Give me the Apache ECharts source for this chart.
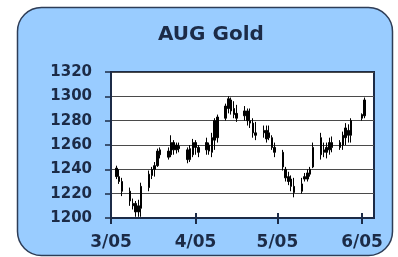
<!DOCTYPE html>
<html>
<head>
<meta charset="utf-8">
<script src="https://cdn.jsdelivr.net/npm/echarts@6/dist/echarts.min.js"></script>
<style>
html,body{margin:0;padding:0;background:#fff;}
#chart{width:398px;height:257px;}
</style>
</head>
<body>
<div id="chart"></div>
<script>
// days counted from 3/05
var days   = [2,3,4,7,8,9,10,11,14,15,16,17,18,21,22,23,24,25,28,29,30,31,32,35,36,37,38,39,42,43,44,45,46,49,50,51,52,53,56,57,58,59,60,63,64,65,66,67,70,71,72,73,74,77,78,79,80,81,84,85,86,87,88,92,93];
var opens  = [1241,1234,1230,1222,1210,1212,1205,1208,1225,1235,1240,1243,1252,1255,1252,1262,1256,1259,1256,1248,1252,1262,1258,1256,1260,1254,1264,1266,1282,1290,1297,1290,1286,1284,1288,1280,1278,1270,1270,1272,1266,1266,1258,1254,1240,1234,1232,1226,1222,1232,1232,1236,1242,1252,1256,1254,1256,1262,1258,1260,1266,1272,1268,1282,1284];
var closes = [1234,1230,1222,1214,1212,1205,1210,1226,1236,1240,1243,1255,1256,1250,1262,1256,1260,1257,1248,1257,1262,1258,1254,1262,1255,1266,1280,1283,1292,1298,1288,1285,1282,1288,1280,1278,1270,1268,1272,1265,1270,1258,1254,1242,1233,1230,1226,1221,1228,1234,1237,1240,1258,1266,1254,1258,1262,1258,1262,1268,1274,1268,1280,1285,1297];
var lows   = [1232,1228,1218,1210,1207,1201,1201,1201,1222,1232,1234,1242,1249,1248,1250,1252,1253,1254,1245,1246,1250,1252,1250,1252,1252,1250,1256,1262,1280,1286,1285,1282,1279,1280,1276,1274,1266,1264,1266,1262,1264,1256,1250,1239,1230,1227,1222,1217,1220,1230,1230,1234,1241,1248,1250,1249,1252,1254,1256,1256,1260,1262,1262,1280,1282];
var highs  = [1243,1240,1233,1225,1216,1214,1215,1229,1239,1242,1246,1257,1258,1258,1268,1264,1262,1262,1258,1260,1265,1264,1260,1266,1262,1270,1282,1285,1294,1300,1299,1296,1293,1292,1290,1290,1282,1279,1276,1276,1276,1268,1262,1256,1242,1238,1235,1233,1233,1237,1240,1242,1262,1270,1262,1262,1266,1267,1264,1271,1278,1277,1282,1286,1299];

var tickDays   = [0,31,61,92];
var tickLabels = ['3/05','4/05','5/05','6/05'];

var navy = '#1c2b47';
var bars = days.map(function(d,i){ return [d, opens[i], closes[i], lows[i], highs[i]]; });

var chart = echarts.init(document.getElementById('chart'));
chart.setOption({
  animation:false,
  graphic:[{
    type:'rect', z:-10,
    shape:{x:17.5,y:7.5,width:375,height:248,r:24},
    style:{fill:'#99ccff',stroke:'#2e3d57',lineWidth:1.5}
  }],
  title:{
    text:'AUG Gold', left:153, top:20,
    textStyle:{fontFamily:'DejaVu Sans',fontWeight:'bold',fontSize:20,color:navy}
  },
  grid:{left:111,top:72,right:24,bottom:39,show:true,backgroundColor:'#fff',borderColor:navy,borderWidth:2},
  xAxis:[{
    type:'value', min:0, max:96.4,
    axisLine:{show:true,lineStyle:{color:navy,width:2}},
    axisTick:{show:true,customValues:tickDays,length:6,lineStyle:{color:navy,width:2}},
    axisLabel:{customValues:tickDays,margin:16,
      fontFamily:'DejaVu Sans',fontWeight:'bold',fontSize:17,color:navy,
      formatter:function(v){ var k=tickDays.indexOf(v); return k<0?'':tickLabels[k]; }},
    splitLine:{show:false}
  },{
    type:'value', min:0, max:96.4, position:'bottom',
    axisLine:{show:false},
    axisTick:{show:true,inside:true,customValues:tickDays,length:5,lineStyle:{color:navy,width:2}},
    axisLabel:{show:false},
    splitLine:{show:false}
  }],
  yAxis:{
    type:'value', min:1200, max:1320, interval:20,
    axisLine:{show:true,lineStyle:{color:navy,width:2}},
    axisTick:{show:true,length:6,lineStyle:{color:navy,width:1.5}},
    axisLabel:{margin:19,fontFamily:'DejaVu Sans',fontWeight:'bold',fontSize:15,color:navy,
      formatter:function(v){ return String(v); }},
    splitLine:{show:true,lineStyle:{color:'#4a4a4a',width:1}}
  },
  series:[{
    type:'candlestick',
    xAxisIndex:0,
    encode:{x:0,y:[1,2,3,4]},
    barWidth:2,
    itemStyle:{color:'#000',color0:'#000',borderColor:'#000',borderColor0:'#000',borderWidth:1},
    data:bars
  }]
});
</script>
</body>
</html>
